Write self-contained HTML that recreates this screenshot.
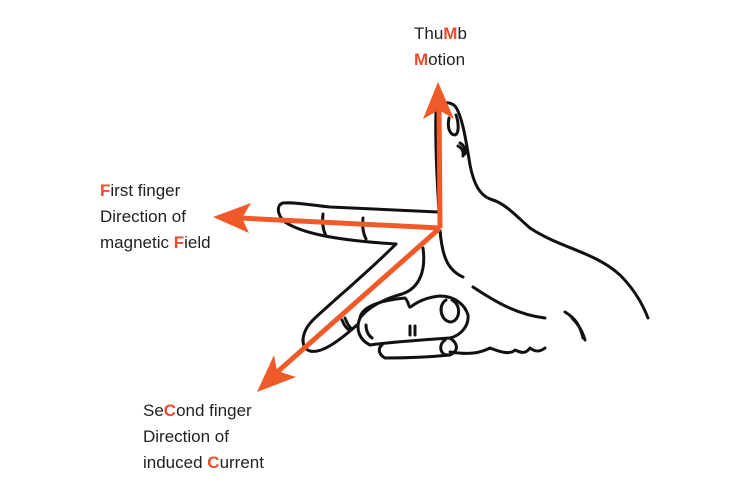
<!DOCTYPE html>
<html><head><meta charset="utf-8"><style>
body{margin:0;background:#fff}
.t{position:absolute;font-family:"Liberation Sans",sans-serif;font-size:17px;color:#231f20;line-height:26px}
b{color:#ee4b2b}
</style></head><body>
<div style="position:relative;width:750px;height:500px;overflow:hidden">
<svg width="750" height="500" style="position:absolute;left:0;top:0">
<g fill="none" stroke="#111" stroke-width="3" stroke-linecap="round" stroke-linejoin="round">
<!-- thumb -->
<path d="M439,212 C437,180 435,140 436,110 C437,103 448,100 455,106 C462,115 466,140 470,165 C474,185 480,195 490,199 C505,203 515,215 530,228 C560,248 595,252 620,275 C635,290 643,305 648,318"/>
<path d="M449,118 C447,128 450,135 455,135 C460,133 458,120 456,115"/>
<path d="M458,146 C462,148 464,152 463,156 M460,143 C464,145 466,150 465,154"/>
<!-- index finger -->
<path d="M438,212 L330,207 C310,205 295,202 283,203 C276,205 277,215 285,222 C300,232 330,240 396,244"/>
<path d="M323,214 C322,222 323,230 326,236 M363,218 C362,226 363,233 366,239"/>
<!-- middle finger -->
<path d="M396,244 C370,270 340,295 315,318 C300,332 300,348 310,351 C322,354 340,340 357,325"/>
<path d="M342,320 C344,325 346,328 349,330 M345,318 C347,323 349,327 352,329"/>
<!-- palm below -->
<path d="M440,230 C442,255 447,270 463,277 M423,248 C426,270 420,288 402,294 C388,298 370,305 360,318 C355,330 360,340 370,345"/>
<path d="M473,287 C500,305 520,315 545,318"/>
<!-- curled fingers -->
<path d="M360,318 C362,305 385,300 405,298 C410,303 408,310 412,306 C420,300 430,297 440,296 C455,296 465,305 468,315 C469,325 462,335 450,338"/>
<path d="M446,300 C438,305 440,320 450,322 C460,322 462,305 452,300"/>
<path d="M370,345 C390,342 420,340 450,338 C460,345 457,352 450,355 C420,358 395,358 385,358 C378,354 378,348 382,345"/>
<path d="M445,340 C438,345 440,355 448,355"/>
<path d="M410,326 L410,335 M415,326 L415,335 M366,325 C366,330 368,335 372,338"/>
<path d="M450,352 C470,355 480,353 490,348 C500,352 510,355 515,350 C520,352 525,355 530,348 C535,352 540,352 545,348"/>
<path d="M565,312 C575,318 580,325 583,338 M572,318 C578,324 582,330 585,340"/>
</g>
<g stroke="#f05a28" stroke-width="5" fill="#f05a28">
<line x1="440" y1="228" x2="439" y2="105"/>
<line x1="440" y1="228" x2="240" y2="218"/>
<line x1="440" y1="228" x2="275" y2="374"/>
<path stroke="none" d="M438,82 L454,119 L439,110 L423,119 Z"/>
<path stroke="none" d="M213,217 L251,203 L242,218 L249,233 Z"/>
<path stroke="none" d="M257,392 L274,355 L277,371 L296,377 Z"/>
</g>
</svg>
<div class="t" style="left:414px;top:21px">Thu<b>M</b>b<br><b>M</b>otion</div>
<div class="t" style="left:100px;top:178px"><b>F</b>irst finger<br>Direction of<br>magnetic <b>F</b>ield</div>
<div class="t" style="left:143px;top:398px">Se<b>C</b>ond finger<br>Direction of<br>induced <b>C</b>urrent</div>
</div>
</body></html>
